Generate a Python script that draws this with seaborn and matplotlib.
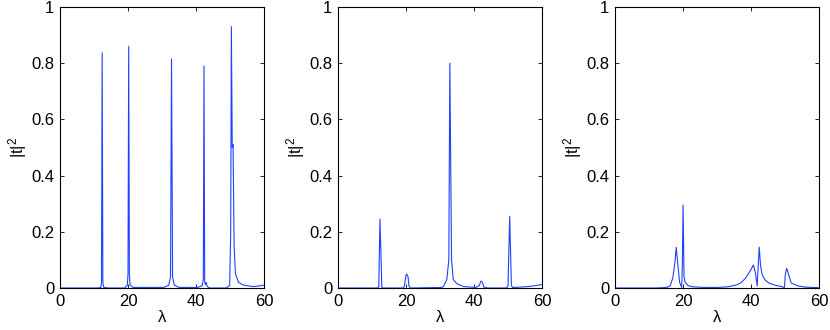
import matplotlib
matplotlib.use('Agg')
import matplotlib.pyplot as plt
import seaborn as sns
import pandas as pd

# transmission |t|^2 vs lambda (three panels)
lam1 = [0, 11.0, 12.0, 12.2, 12.4, 12.6, 12.8, 14, 19.0, 19.8, 20.0, 20.2, 20.4, 20.6, 21.5,
        30.5, 32.0, 32.5, 32.8, 33.1, 33.6, 35, 40.5, 41.8, 42.15, 42.35, 42.55, 42.8, 43.0, 43.3,
        44, 49.0, 49.9, 50.2, 50.4, 50.65, 50.9, 51.2, 51.6, 52.5, 54, 57, 60]
t1 = [0, 0, 0.002, 0.02, 0.837, 0.02, 0.003, 0, 0, 0.01, 0.05, 0.86, 0.05, 0.01, 0.002,
      0.002, 0.01, 0.04, 0.815, 0.04, 0.01, 0.002, 0.002, 0.008, 0.03, 0.79, 0.02, 0.012, 0.02, 0.005,
      0, 0, 0.01, 0.2, 0.93, 0.5, 0.51, 0.15, 0.05, 0.02, 0.01, 0.005, 0.01]

lam2 = [0, 11.5, 12.0, 12.35, 12.9, 13.2, 19.0, 19.5, 20.0, 20.2, 20.6, 20.9, 21.5,
        30.5, 31.0, 32.0, 32.6, 32.9, 33.4, 33.9, 35, 37, 40.5, 41.5, 42.1, 42.5, 42.9, 44,
        49.3, 50.0, 50.5, 51.0, 51.3, 52, 56, 60]
t2 = [0, 0, 0.003, 0.245, 0.003, 0, 0, 0.005, 0.045, 0.05, 0.04, 0.005, 0,
      0.002, 0.005, 0.03, 0.1, 0.80, 0.1, 0.03, 0.015, 0.005, 0.002, 0.008, 0.025, 0.02, 0.003, 0,
      0, 0.005, 0.255, 0.01, 0.002, 0.002, 0.005, 0.012]

lam3 = [0, 12, 14, 15.5, 16.2, 17.0, 17.6, 18.0, 18.5, 19.0, 19.6, 19.8, 20.0, 20.3, 20.6, 21.5,
        23, 26, 30, 33, 35.5, 37, 38.4, 39.9, 40.7, 41.3, 41.8, 42.4, 42.8, 43.3, 44.2, 45.2,
        47, 49.1, 49.8, 50.1, 50.5, 51.0, 51.8, 53.9, 56, 60]
t3 = [0, 0, 0.001, 0.003, 0.008, 0.035, 0.09, 0.145, 0.08, 0.02, 0.002, 0.08, 0.295, 0.04, 0.02, 0.008,
      0.004, 0.002, 0.002, 0.004, 0.01, 0.018, 0.035, 0.064, 0.082, 0.053, 0.007, 0.145, 0.08, 0.046, 0.028, 0.018,
      0.01, 0.005, 0.0, 0.05, 0.07, 0.05, 0.018, 0.007, 0.003, 0.001]

panels = [(lam1, t1), (lam2, t2), (lam3, t3)]
lefts = [0.0723, 0.4072, 0.741]

sns.set_theme(style='ticks')
plt.rcParams['font.family'] = ['Liberation Sans', 'DejaVu Sans']
plt.rcParams['mathtext.default'] = 'regular'

fig = plt.figure(figsize=(8.3, 3.3), dpi=100)
for i, (lam, t) in enumerate(panels):
    ax = fig.add_axes([lefts[i], 0.1273, 0.2458, 0.8515])
    df = pd.DataFrame({'lam': lam, 't': t})
    sns.lineplot(data=df, x='lam', y='t', ax=ax, color='#2040ff', linewidth=0.8,
                 estimator=None, sort=False)
    ax.set_xlim(0, 60)
    ax.set_ylim(0, 1)
    ax.set_xticks([0, 20, 40, 60])
    ax.set_yticks([0, 0.2, 0.4, 0.6, 0.8, 1])
    ax.set_yticklabels(['0', '0.2', '0.4', '0.6', '0.8', '1'])
    ax.tick_params(direction='in', top=True, right=True, labelsize=12,
                   length=3, width=0.6, pad=4, colors='black')
    for s in ax.spines.values():
        s.set_linewidth(0.8)
        s.set_color('black')
    ax.set_xlabel('λ', fontsize=12, labelpad=1, color='black')
    ax.set_ylabel('|t|$^2$', fontsize=12, labelpad=2, color='black')

fig.savefig('out.png', dpi=100)
